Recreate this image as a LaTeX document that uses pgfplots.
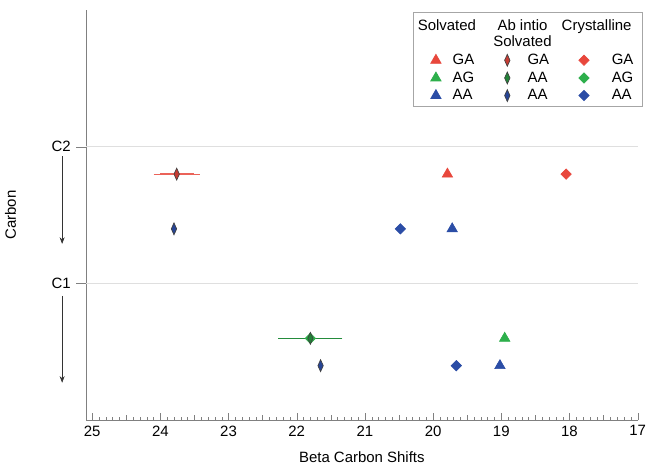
\documentclass[border=0pt]{standalone}
\usepackage{pgfplots}
\pgfplotsset{compat=1.18}
\usepackage{fontspec}
\setmainfont{Liberation Sans}
\usetikzlibrary{arrows.meta}

\definecolor{cred}{HTML}{E8473C}
\definecolor{cgreen}{HTML}{2DAF4B}
\definecolor{cblue}{HTML}{2B4DA6}
\definecolor{axgray}{HTML}{808080}

% fixed-width legend text cells, one width per column group
\newcommand{\lgA}[1]{\makebox[19.3pt][l]{#1}}
\newcommand{\lgB}[1]{\makebox[24pt][l]{#1}}
\newcommand{\lgC}[1]{\makebox[15pt][l]{#1}}
\newcommand{\hd}[1]{\begin{tabular}[b]{@{}c@{}}#1\end{tabular}}

\begin{document}
\fontsize{9}{11}\selectfont
\begin{tikzpicture}
\begin{axis}[
    width=332pt, height=247pt, scale only axis,
    x dir=reverse,
    xmin=17, xmax=25.09, ymin=0, ymax=3,
    axis x line=bottom, axis y line=left,
    axis line style={-, axgray},
    xtick={17,18,...,25},
    minor x tick num=9,
    xtick align=inside,
    major tick length=4.5pt, minor tick length=2pt,
    extra x ticks={17.5,18.5,...,24.5},
    extra x tick labels={},
    extra x tick style={major tick length=3pt},
    ytick=\empty,
    extra y ticks={1,2}, extra y tick labels={C1,C2},
    extra y tick style={grid=major, major tick length=6pt, tick align=outside},
    y grid style={gray!25},
    tick style={axgray},
    /pgf/number format/assume math mode=true,
    xlabel={Beta Carbon Shifts},
    ylabel={Carbon},
    xlabel shift=3pt,
    ylabel shift=13pt,
    clip=false,
    legend columns=3,
    legend cell align=left,
    legend style={at={(rel axis cs:1,0.995)}, anchor=north east, xshift=3pt,
        draw=gray!70, inner xsep=5pt, inner ysep=1pt, row sep=-1pt,
        /tikz/every odd column/.append style={column sep=8pt}},
]

% Solvated (triangles)
\addplot[forget plot, only marks, mark=triangle*, mark size=3.6pt, color=cred]
    coordinates {(19.79,1.8)};
\addplot[forget plot, only marks, mark=triangle*, mark size=3.6pt, color=cgreen]
    coordinates {(18.95,0.6)};
\addplot[forget plot, only marks, mark=triangle*, mark size=3.6pt, color=cblue]
    coordinates {(19.72,1.4) (19.02,0.4)};

% Crystalline (diamonds)
\addplot[forget plot, only marks, mark=square*, mark size=2.2pt, mark options={rotate=45}, color=cred]
    coordinates {(18.05,1.8)};
\addplot[forget plot, only marks, mark=square*, mark size=2.2pt, mark options={rotate=45}, color=cgreen]
    coordinates {(21.8,0.6)};
\addplot[forget plot, only marks, mark=square*, mark size=2.2pt, mark options={rotate=45}, color=cblue]
    coordinates {(20.48,1.4) (19.66,0.4)};

% Ab initio solvated (narrow diamonds, with error bars)
\addplot[forget plot, only marks, mark=diamond*, mark size=3.6pt,
    mark options={xscale=0.6, draw=black!75, fill=cred!85!black},
    error bars/.cd, x dir=both, x explicit,
    error bar style={cred!85, line width=0.8pt},
    error mark options={draw=none}]
    coordinates {(23.76,1.8) +- (0.25,0)};
\addplot[forget plot, only marks, mark=diamond*, mark size=3.6pt,
    mark options={xscale=0.6, draw=black!75, fill=cgreen!75!black},
    error bars/.cd, x dir=both, x explicit,
    error bar style={cgreen!80!black, line width=0.8pt},
    error mark options={draw=none}]
    coordinates {(21.8,0.6) +- (0.38,0)};
\addplot[forget plot, only marks, mark=diamond*, mark size=3.6pt,
    mark options={xscale=0.6, draw=black!75, fill=cblue!90!black}]
    coordinates {(23.8,1.4) (21.65,0.4)};

% legend
\addlegendimage{empty legend}\addlegendentry{\lgA{\hspace*{-24pt}\hd{Solvated\\[-1pt]\strut}}}
\addlegendimage{empty legend}\addlegendentry{\lgB{\hspace*{-20pt}\hd{Ab intio\\[-1pt]Solvated}}}
\addlegendimage{empty legend}\addlegendentry{\lgC{\hspace*{-26.5pt}\hd{Crystalline\\[-1pt]\strut}}}
\addlegendimage{only marks, mark=triangle*, mark size=3.6pt, color=cred}\addlegendentry{\lgA{\hspace*{-3pt}GA}}
\addlegendimage{only marks, mark=diamond*, mark size=3.6pt, mark options={xscale=0.6, draw=black!75, fill=cred!85!black}}\addlegendentry{\lgB{\hspace*{0.6pt}GA}}
\addlegendimage{only marks, mark=square*, mark size=2.2pt, mark options={rotate=45}, color=cred}\addlegendentry{\lgC{\hspace*{3.6pt}GA}}
\addlegendimage{only marks, mark=triangle*, mark size=3.6pt, color=cgreen}\addlegendentry{\lgA{\hspace*{-3pt}AG}}
\addlegendimage{only marks, mark=diamond*, mark size=3.6pt, mark options={xscale=0.6, draw=black!75, fill=cgreen!75!black}}\addlegendentry{\lgB{\hspace*{0.6pt}AA}}
\addlegendimage{only marks, mark=square*, mark size=2.2pt, mark options={rotate=45}, color=cgreen}\addlegendentry{\lgC{\hspace*{3.6pt}AG}}
\addlegendimage{only marks, mark=triangle*, mark size=3.6pt, color=cblue}\addlegendentry{\lgA{\hspace*{-3pt}AA}}
\addlegendimage{only marks, mark=diamond*, mark size=3.6pt, mark options={xscale=0.6, draw=black!75, fill=cblue!90!black}}\addlegendentry{\lgB{\hspace*{0.6pt}AA}}
\addlegendimage{only marks, mark=square*, mark size=2.2pt, mark options={rotate=45}, color=cblue}\addlegendentry{\lgC{\hspace*{3.6pt}AA}}

% arrows under C2 and C1
\draw[-{Stealth[length=4pt,width=3pt]}, black!80] (axis cs:25.44,1.93) -- (axis cs:25.44,1.29);
\draw[-{Stealth[length=4pt,width=3pt]}, black!80] (axis cs:25.44,0.91) -- (axis cs:25.44,0.275);
\end{axis}
\path (current axis.north west) -- ++(0,6pt);
\end{tikzpicture}
\end{document}
